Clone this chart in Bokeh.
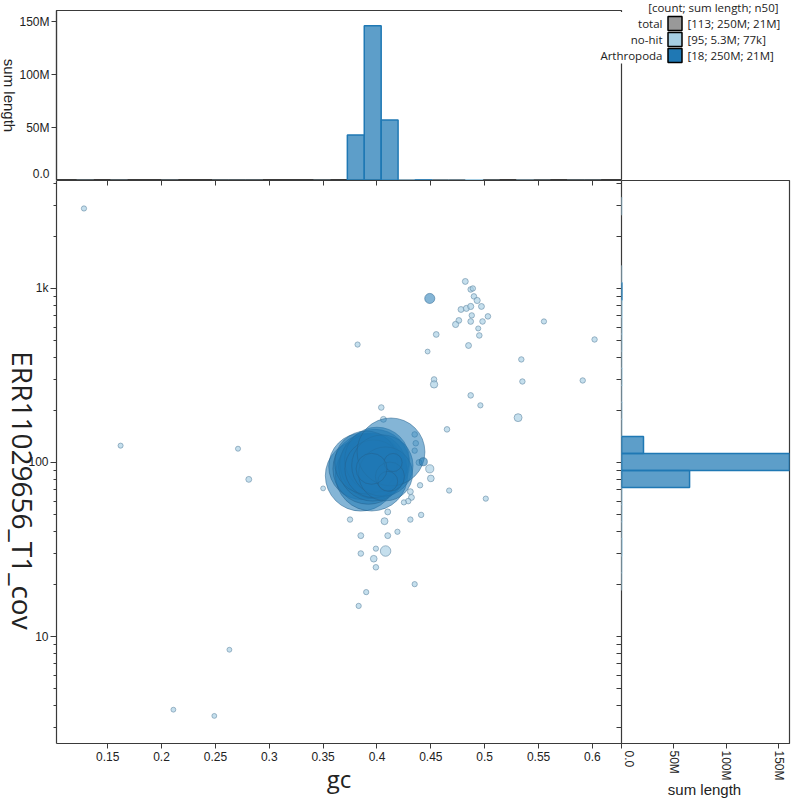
import math
import numpy as np
from bokeh.plotting import figure
from bokeh.models import (Range1d, LinearAxis, LogAxis, FixedTicker,
                          CustomJSTickFormatter, ColumnDataSource)
from bokeh.layouts import column, row
from bokeh.embed import file_html
from bokeh.resources import INLINE
from bokeh.core.properties import value

# ---------------- data ----------------
legend_header = "[count; sum length; n50]"
legend_names = ["total", "no-hit", "Arthropoda"]
legend_stats = ["[113; 250M; 21M]", "[95; 5.3M; 77k]", "[18; 250M; 21M]"]
x_title = "gc"
y_title = "ERR11029656_T1_cov"
hist_title = "sum length"

gc_ticks = [0.15, 0.2, 0.25, 0.3, 0.35, 0.4, 0.45, 0.5, 0.55, 0.6]
cov_ticks = [10, 100, 1000]
len_ticks_M = [0, 50, 100, 150]

# Arthropoda contigs: gc, coverage, length (Mb)
arth_gc = [0.385, 0.386, 0.395, 0.392, 0.398, 0.396, 0.400, 0.390, 0.397,
           0.405, 0.408, 0.413, 0.412, 0.410, 0.415, 0.395, 0.449, 0.443]
arth_cov = [84, 95, 85, 92, 98, 94, 104, 100, 92,
            96, 86, 115, 83, 78, 100, 92, 876, 101]
arth_len = [23, 20, 24, 23, 22, 21, 19, 18, 15,
            17, 13, 21, 3.5, 1.5, 1.2, 4, 0.29, 0.16]

# no-hit contigs: gc, coverage, length (kb)
nohit_gc = [0.482, 0.487, 0.489, 0.490, 0.493, 0.478, 0.483, 0.487, 0.497, 0.488,
            0.503, 0.476, 0.473, 0.487, 0.498, 0.494, 0.495, 0.455, 0.485, 0.382,
            0.447, 0.555, 0.602, 0.534, 0.535, 0.591, 0.453, 0.453, 0.487, 0.496,
            0.404, 0.531, 0.406, 0.465, 0.435, 0.436, 0.435, 0.439, 0.449, 0.450,
            0.440, 0.467, 0.501, 0.350, 0.431, 0.432, 0.429, 0.425, 0.410, 0.375,
            0.407, 0.431, 0.441, 0.419, 0.385, 0.410, 0.399, 0.408, 0.385, 0.397,
            0.128, 0.162, 0.271, 0.281, 0.383, 0.390, 0.435, 0.263, 0.211, 0.249,
            0.399]
nohit_cov = [1097, 987, 1000, 900, 853, 757, 768, 788, 788, 700,
             691, 655, 621, 646, 646, 589, 537, 544, 470, 476,
             434, 646, 509, 391, 292, 296, 300, 281, 243, 213,
             207, 181, 177, 155, 145, 129, 117, 100, 92, 81,
             74, 69, 62, 71, 68, 63, 60, 59, 52, 47,
             46, 47, 50, 40, 38, 38, 32, 31, 30, 28,
             2880, 125, 120, 80, 15, 18, 20, 8.4, 3.8, 3.5,
             25]
nohit_len = [60, 50, 45, 50, 70, 60, 65, 70, 60, 45,
             50, 55, 70, 55, 50, 35, 50, 55, 60, 40,
             30, 40, 45, 45, 45, 45, 50, 120, 50, 40,
             50, 150, 60, 50, 50, 50, 45, 60, 160, 90,
             45, 40, 40, 30, 60, 60, 50, 40, 60, 45,
             100, 45, 45, 40, 60, 60, 40, 320, 50, 90,
             40, 35, 35, 60, 40, 40, 40, 30, 30, 30,
             50]

# ---------------- settings ----------------
X_RANGE = (0.1025, 0.627)
Y_RANGE = (2.43, 4170)
HIST_MAX = 160.4
GC_BIN0, GC_BIN_W = 0.3725, 0.0157
LCOV_BIN0, LCOV_BIN_W = 1.954, 0.098
R_OFFSET, PX_PER_SQRT_BP = 1.2, 1 / 140.0

ARTH = "#1f78b4"
NOHIT = "#a6cee3"
TOTAL = "#999999"
AXIS_COLOR = "#3a3a3a"
TEXT_COLOR = "#222222"
TICK_FONT = "Liberation Sans"
TITLE_FONT = "Open Sans"

len_fmt = CustomJSTickFormatter(code="return tick == 0 ? '0.0' : tick + 'M';")
gc_fmt = CustomJSTickFormatter(code="return String(Math.round(tick * 100) / 100);")
cov_fmt = CustomJSTickFormatter(code="return tick >= 1000 ? (tick / 1000) + 'k' : String(tick);")
blank_fmt = CustomJSTickFormatter(code="return '';")

cov_minor = [m * 10 ** e for e in range(0, 4) for m in range(2, 10)
             if Y_RANGE[0] < m * 10 ** e < Y_RANGE[1]]

# frame geometry in page pixels
ML, MR, MT, MB = 56, 621, 180, 743      # main frame
TT = 10                                 # top of upper histogram frame


def style_axis(ax, tick_out=5, minor_out=0, tick_in=0, minor_in=0):
    ax.axis_line_color = AXIS_COLOR
    ax.axis_line_width = 1.2
    ax.major_tick_line_color = AXIS_COLOR
    ax.minor_tick_line_color = AXIS_COLOR
    ax.major_tick_out = tick_out
    ax.major_tick_in = tick_in
    ax.minor_tick_out = minor_out
    ax.minor_tick_in = minor_in
    ax.major_label_text_font = TICK_FONT
    ax.major_label_text_font_size = "12px"
    ax.major_label_text_color = TEXT_COLOR
    ax.major_label_standoff = 2


def blank_axis(ax):
    ax.formatter = blank_fmt
    ax.major_label_text_font_size = "0px"
    ax.major_label_standoff = 0


def gx(px):  # page px -> gc data
    return X_RANGE[0] + (px - ML) * (X_RANGE[1] - X_RANGE[0]) / (MR - ML)


def cy(py):  # page px -> coverage data (log)
    l0, l1 = math.log10(Y_RANGE[0]), math.log10(Y_RANGE[1])
    return 10 ** (l0 + (MB - py) * (l1 - l0) / (MB - MT))


def hy(py):  # page px -> upper histogram data
    return (MT - py) * HIST_MAX / (MT - TT)


def hx(px):  # page px -> right histogram data
    return (px - MR) * HIST_MAX / (789 - MR)


def overlay_text(fig, x, y, txt, font, size, align="center", angle=0.0):
    r = fig.text(x=x, y=y, text=txt, text_font=value(font),
                 text_font_size=value(size), text_align=align,
                 text_baseline="middle", text_color=TEXT_COLOR, angle=angle)
    r.level = "overlay"
    return r


# ---------------- main scatter ----------------
main = figure(width=621, height=620, x_range=Range1d(*X_RANGE),
              y_range=Range1d(*Y_RANGE), y_axis_type="log",
              output_backend="svg", toolbar_location=None,
              min_border_left=56, min_border_right=0, min_border_top=0,
              min_border_bottom=57)
main.grid.visible = False
main.outline_line_color = None

xa = main.xaxis[0]
xa.ticker = FixedTicker(ticks=gc_ticks)
xa.formatter = gc_fmt
style_axis(xa, tick_out=5)
xa.major_label_standoff = 3

ya = main.yaxis[0]
ya.ticker = FixedTicker(ticks=cov_ticks, minor_ticks=cov_minor)
ya.formatter = cov_fmt
style_axis(ya, tick_out=6, minor_out=3)

top_ax = LinearAxis(ticker=FixedTicker(ticks=gc_ticks))
style_axis(top_ax, tick_out=0, tick_in=5)
blank_axis(top_ax)
main.add_layout(top_ax, "above")

right_ax = LogAxis(ticker=FixedTicker(ticks=cov_ticks, minor_ticks=cov_minor))
style_axis(right_ax, tick_out=0, tick_in=5, minor_in=5)
blank_axis(right_ax)
main.add_layout(right_ax, "right")

nh_src = ColumnDataSource(dict(
    x=nohit_gc, y=nohit_cov,
    s=[2 * (R_OFFSET + math.sqrt(l * 1e3) * PX_PER_SQRT_BP) for l in nohit_len]))
ar_src = ColumnDataSource(dict(
    x=arth_gc, y=arth_cov,
    s=[2 * (R_OFFSET + math.sqrt(l * 1e6) * PX_PER_SQRT_BP) for l in arth_len]))
main.scatter("x", "y", size="s", source=nh_src, fill_color=NOHIT,
             fill_alpha=0.65, line_color="#6b8fa8", line_alpha=0.8, line_width=0.8)
main.scatter("x", "y", size="s", source=ar_src, fill_color=ARTH,
             fill_alpha=0.55, line_color="#245f8c", line_alpha=0.5, line_width=1)

overlay_text(main, [gx(338.5)], [cy(778)], [x_title], TITLE_FONT, "24px")
overlay_text(main, [gx(22)], [cy(490)], [y_title], TITLE_FONT, "28px",
             angle=-math.pi / 2)

# ---------------- histograms ----------------
gc_edges = GC_BIN0 + GC_BIN_W * np.arange(-18, 17)
cov_edges = 10 ** (LCOV_BIN0 + LCOV_BIN_W * np.arange(-7, 24))


def hist(vals, weights, edges):
    h, _ = np.histogram(vals, bins=edges, weights=weights)
    return h


nh_gc_h = hist(nohit_gc, [l / 1e3 for l in nohit_len], gc_edges)
ar_gc_h = hist(arth_gc, arth_len, gc_edges)
nh_cov_h = hist(nohit_cov, [l / 1e3 for l in nohit_len], cov_edges)
ar_cov_h = hist(arth_cov, arth_len, cov_edges)

top = figure(width=800, height=180, x_range=main.x_range,
             y_range=Range1d(0, HIST_MAX), output_backend="svg",
             toolbar_location=None, x_axis_location=None,
             min_border_left=56, min_border_right=179, min_border_top=10,
             min_border_bottom=0)
top.grid.visible = False
top.outline_line_color = AXIS_COLOR
top.outline_line_width = 1.2
tya = top.yaxis[0]
tya.ticker = FixedTicker(ticks=len_ticks_M)
tya.formatter = len_fmt
style_axis(tya, tick_out=5)

for h, col, a in ((nh_gc_h, NOHIT, 0.75), (ar_gc_h, ARTH, 0.72)):
    m = h > 0
    top.quad(left=gc_edges[:-1][m], right=gc_edges[1:][m], bottom=0, top=h[m],
             fill_color=col, fill_alpha=a, line_color=col, line_width=1.5)

overlay_text(top, [gx(9)], [hy(95)], [hist_title], TICK_FONT, "15px",
             angle=-math.pi / 2)

right = figure(width=179, height=620, x_range=Range1d(0, HIST_MAX),
               y_range=main.y_range, y_axis_type="log", output_backend="svg",
               toolbar_location=None, y_axis_location=None,
               min_border_left=0, min_border_right=11, min_border_top=0,
               min_border_bottom=57)
right.grid.visible = False
right.outline_line_color = AXIS_COLOR
right.outline_line_width = 1.2
rxa = right.xaxis[0]
rxa.ticker = FixedTicker(ticks=len_ticks_M)
rxa.formatter = len_fmt
style_axis(rxa, tick_out=5)
rxa.major_label_orientation = -math.pi / 2

for h, col, a in ((nh_cov_h, NOHIT, 0.75), (ar_cov_h, ARTH, 0.72)):
    m = h > 0
    right.quad(bottom=cov_edges[:-1][m], top=cov_edges[1:][m], left=0, right=h[m],
               fill_color=col, fill_alpha=a, line_color=col, line_width=1.5)

overlay_text(right, [hx(704)], [cy(789)], [hist_title], TICK_FONT, "15px")

# ---------------- legend (drawn on the top figure, outside its frame) ----------------
bg = top.quad(left=[gx(600)], right=[gx(795)], top=[hy(11.5)], bottom=[hy(63)],
              fill_color="white", line_color=None)
bg.level = "overlay"
overlay_text(top, [gx(778)], [hy(7)], [legend_header], TITLE_FONT, "11.5px",
             align="right")
row_y = [23, 39, 55]
sw_cols = [TOTAL, NOHIT, ARTH]
overlay_text(top, [gx(662)] * 3, [hy(v) for v in row_y], legend_names,
             TITLE_FONT, "11.5px", align="right")
sw = top.rect(x=[gx(674.5)] * 3, y=[hy(v) for v in row_y], width=14, height=14,
              width_units="screen", height_units="screen", fill_color=sw_cols,
              line_color="black", line_width=1.5)
sw.level = "overlay"
overlay_text(top, [gx(687)] * 3, [hy(v) for v in row_y], legend_stats,
             TITLE_FONT, "11.5px", align="left")

layout = column(top, row(main, right, spacing=0), spacing=0)
open("out.html", "w").write(file_html(layout, INLINE))
